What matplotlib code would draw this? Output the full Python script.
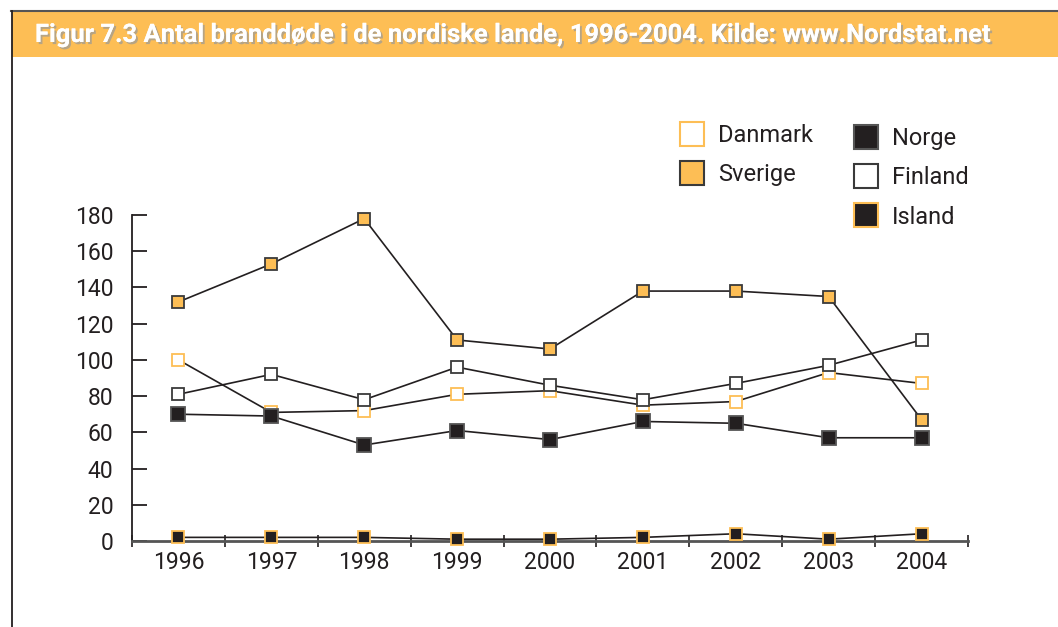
import matplotlib
matplotlib.use("Agg")
import matplotlib.pyplot as plt
from matplotlib.lines import Line2D
from matplotlib.patches import Rectangle
import matplotlib.patheffects as pe

years = [1996, 1997, 1998, 1999, 2000, 2001, 2002, 2003, 2004]
danmark = [100, 71, 72, 81, 83, 75, 77, 93, 87]
sverige = [132, 153, 178, 111, 106, 138, 138, 135, 67]
norge = [70, 69, 53, 61, 56, 66, 65, 57, 57]
finland = [81, 92, 78, 96, 86, 78, 87, 97, 111]
island = [2, 2, 2, 1, 1, 2, 4, 1, 4]
yticks = [0, 20, 40, 60, 80, 100, 120, 140, 160, 180]
title = "Figur 7.3 Antal branddøde i de nordiske lande, 1996-2004. Kilde: www.Nordstat.net"

ORANGE = "#fdbe55"
DARK = "#231f20"
EDGE = "#3a3a3a"
W, H = 1058, 627

font = ["Roboto", "DejaVu Sans"]

fig = plt.figure(figsize=(W / 100, H / 100), dpi=100)

# frame: top rule, left rule, orange title bar
fig.add_artist(Line2D([11 / W, 1], [1 - 11 / H, 1 - 11 / H], color="#555555", lw=1.5))
fig.add_artist(Line2D([11.5 / W, 11.5 / W], [0, 1 - 11 / H], color=DARK, lw=1.3))
fig.add_artist(Rectangle((12 / W, 1 - 57 / H), 1, 45 / H, color=ORANGE, lw=0))
fig.text(35 / W, 1 - 35 / H, title, color="white", fontsize=18.4, fontweight="bold",
         va="center", ha="left", family=font,
         path_effects=[pe.withSimplePatchShadow(offset=(1.5, -1.5), shadow_rgbFace="#999999", alpha=0.7),
                       pe.Normal()])

ax = fig.add_axes([132 / W, 1 - 541 / H, (968 - 132) / W, (541 - 215) / H])

series = [
    ("Danmark", danmark, "white", ORANGE, 9),
    ("Sverige", sverige, ORANGE, EDGE, 9),
    ("Norge", norge, DARK, "#555555", 9.8),
    ("Finland", finland, "white", EDGE, 9),
    ("Island", island, DARK, ORANGE, 9),
]
for name, vals, face, edge, ms in series:
    ax.plot(years, vals, color=DARK, lw=1.2, marker="s", markersize=ms,
            markerfacecolor=face, markeredgecolor=edge, markeredgewidth=1.3,
            clip_on=False, zorder=3)

ax.set_xlim(1995.5, 2004.5)
ax.set_ylim(0, 180)
ax.set_yticks(yticks)
ax.set_xticks(years)
ax.set_xticks([y + 0.5 for y in range(1995, 2005)], minor=True)
ax.tick_params(axis="y", direction="in", length=11, width=1.3, color=DARK, pad=13.5,
               labelsize=16.5, labelcolor=DARK)
ax.tick_params(axis="x", which="major", length=0, pad=7, labelsize=16.5, labelcolor=DARK)
ax.tick_params(axis="x", which="minor", direction="inout", length=8, width=1.2, color=DARK)
for lab in ax.get_xticklabels() + ax.get_yticklabels():
    lab.set_family(font)
for s in ["top", "right"]:
    ax.spines[s].set_visible(False)
ax.spines["left"].set_color(DARK)
ax.spines["left"].set_linewidth(1.3)
ax.spines["bottom"].set_color("#555555")
ax.spines["bottom"].set_linewidth(2)


def handle(face, edge, ms):
    return Line2D([], [], ls="none", marker="s", markersize=ms,
                  markerfacecolor=face, markeredgecolor=edge, markeredgewidth=1.5)


leg_kw = dict(frameon=False, prop={"family": font, "size": 17}, labelcolor=DARK,
              handletextpad=0.1, labelspacing=0.68, borderaxespad=0)
h1 = [handle("white", ORANGE, 17), handle(ORANGE, EDGE, 17)]
fig.legend(h1, ["Danmark", "Sverige"], loc="upper left",
           bbox_to_anchor=(659 / W, 1 - 115 / H), **leg_kw)
h2 = [handle(DARK, "#555555", 17), handle("white", EDGE, 17), handle(DARK, ORANGE, 17)]
fig.legend(h2, ["Norge", "Finland", "Island"], loc="upper left",
           bbox_to_anchor=(833 / W, 1 - 118 / H), **leg_kw)

fig.savefig("out.png", dpi=100)
